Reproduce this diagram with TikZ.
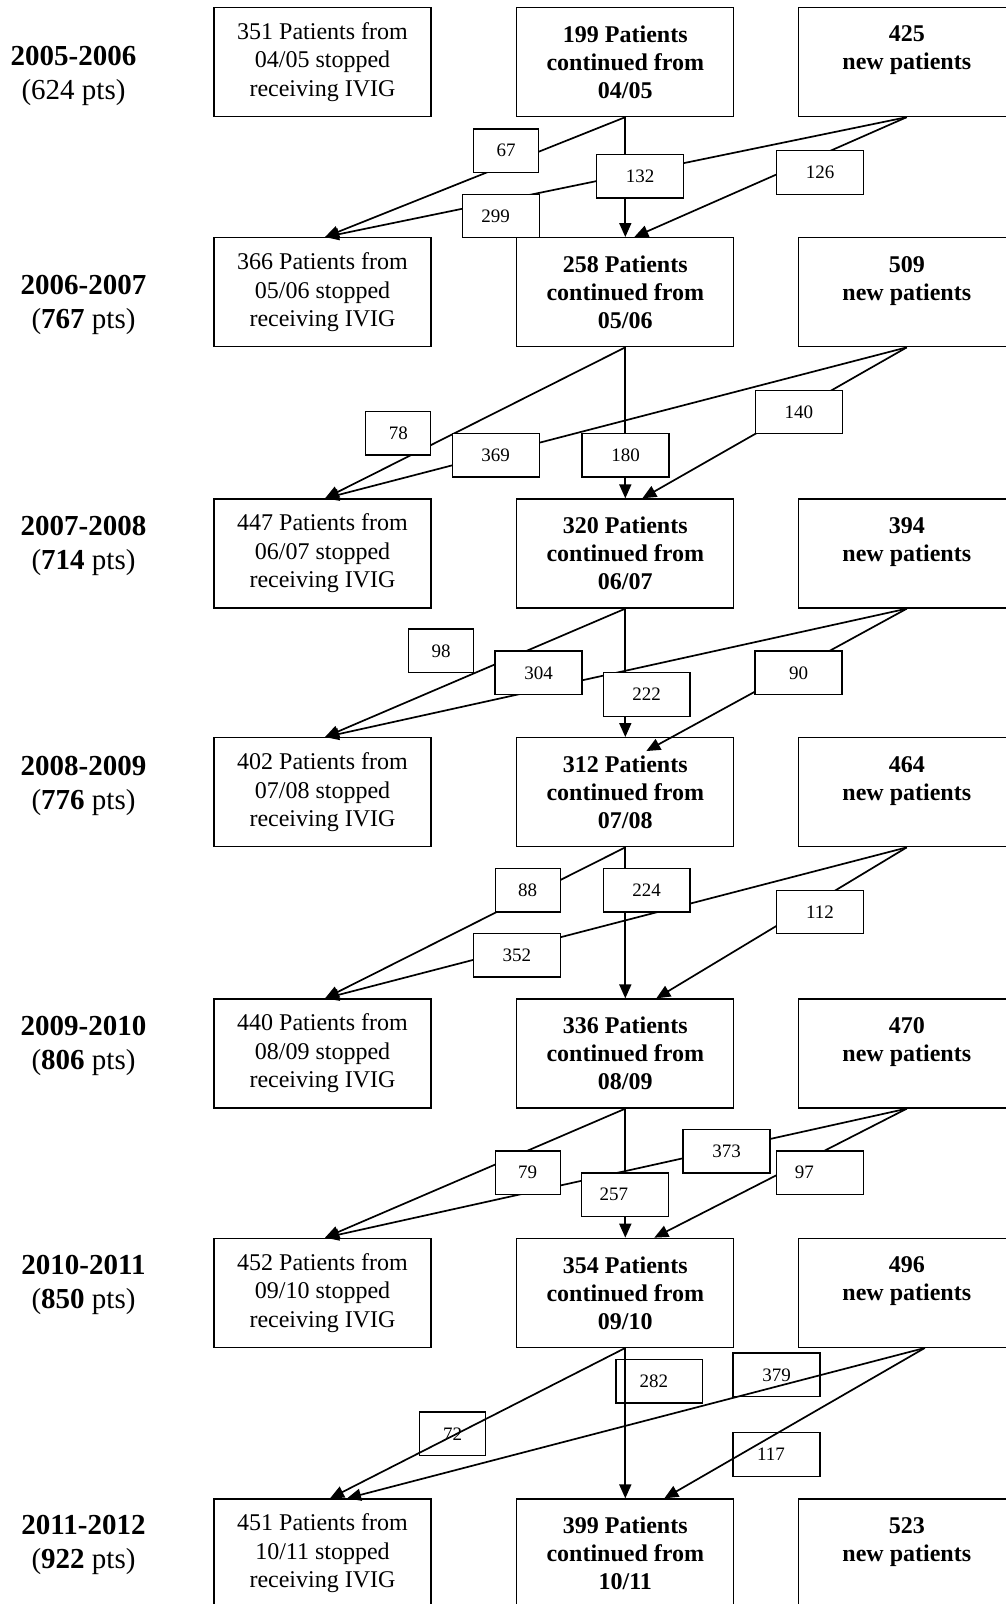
\documentclass[tikz,border=0pt]{standalone}
\usepackage{fontspec}
\setmainfont{Liberation Serif}
\usetikzlibrary{arrows.meta}

\begin{document}
\begin{tikzpicture}[x=1pt,y=-1pt,
    box/.style={draw,line width=1.3pt,minimum width=217pt,minimum height=109pt,
      inner sep=0pt,align=center,font=\fontsize{24}{28.5}\selectfont},
    stopbox/.style={box},
    contbox/.style={box,font=\fontsize{24}{28}\selectfont\bfseries},
    numbox/.style={draw,fill=white,line width=1.3pt,minimum height=43.5pt,
      inner sep=0pt,font=\fontsize{19}{22}\selectfont},
    flow/.style={line width=1.7pt,-{Triangle[length=14pt,width=12pt]}},
    yearlbl/.style={align=center,font=\fontsize{29}{34}\selectfont}]

    \useasboundingbox (0,0) rectangle (1006,1604);

    % One row per year: stopped, continued, new, year label
    \foreach \i/\yc/\ns/\per/\nc/\nn/\yr/\ptsn/\lx/\ly in {
        1/62/351/{04/05}/199/425/2005-2006/624/73.5/75.5,
        2/292.2/366/{05/06}/258/509/2006-2007/\textbf{767}/83.5/305.4,
        3/553.5/447/{06/07}/320/394/2007-2008/\textbf{714}/83.5/546.2,
        4/792.2/402/{07/08}/312/464/2008-2009/\textbf{776}/83.5/785.6,
        5/1053.5/440/{08/09}/336/470/2009-2010/\textbf{806}/83.5/1046.3,
        6/1292.8/452/{09/10}/354/496/2010-2011/\textbf{850}/83.5/1285.2,
        7/1553.5/451/{10/11}/399/523/2011-2012/\textbf{922}/83.5/1545.2}
    {
        \node[stopbox] (stop\i) at (322.5,\yc) {\ns{} Patients from\\\per{} stopped\\receiving IVIG};
        \node[contbox] (cont\i) at (625.3,\yc) {\nc{} Patients\\continued from\\\per};
        \node[contbox] (new\i) at (906.8,\yc) {\nn\\new patients\\~};
        \node[yearlbl] (yr\i) at (\lx,\ly) {\textbf{\yr}\\(\ptsn{} pts)};
    }

    % Last step: the lines run over these boxes
    \node[numbox,fill=none,minimum width=86.7pt] (n282) at (659.4,1381.2) {282\hspace*{11pt}};
    \node[numbox,fill=none,minimum width=87pt] (n379) at (776.5,1374.8) {379};
    \node[numbox,fill=none,minimum width=65.7pt] (n72) at (452.5,1433.8) {72};
    \node[numbox,fill=none,minimum width=87pt] (n117) at (776.5,1454.5) {117\hspace*{11pt}};

    % Flows from one year to the next
    \foreach \i/\j/\dx/\dy in {1/2/9/0, 2/3/17/0, 3/4/21/-14, 4/5/31/0, 5/6/29/0}
    {
        \draw[flow] (cont\i.south) -- ([xshift=2.5pt]stop\j.north);
        \draw[flow] (new\i.south) -- ([xshift=2.5pt]stop\j.north);
        \draw[flow] (cont\i.south) -- (cont\j.north);
        \draw[flow] (new\i.south) -- ([xshift=\dx pt,yshift=\dy pt]cont\j.north);
    }
    \draw[flow] (cont6.south) -- ([xshift=7.5pt]stop7.north);
    \draw[flow] ([xshift=18pt]new6.south) -- ([xshift=24.5pt]stop7.north);
    \draw[flow] (cont6.south) -- (cont7.north);
    \draw[flow] ([xshift=18pt]new6.south) -- ([xshift=39pt]cont7.north);

    % Counts on the flows
    \node[numbox,minimum width=65pt] (n67) at (506,150.7) {67};
    \node[numbox,minimum width=86.5pt] (n132) at (640,176.3) {132};
    \node[numbox,minimum width=87pt] (n126) at (820,172.5) {126};
    \node[numbox,minimum width=76.6pt] (n299) at (501,216) {299\hspace*{11pt}};

    \node[numbox,minimum width=65pt] (n78) at (398.3,433.3) {78};
    \node[numbox,minimum width=87pt] (n369) at (495.7,455.3) {369};
    \node[numbox,minimum width=87pt] (n180) at (625.6,455.3) {180};
    \node[numbox,minimum width=87pt] (n140) at (798.9,412) {140};

    \node[numbox,minimum width=65pt] (n98) at (441.2,650.8) {98};
    \node[numbox,minimum width=87pt] (n304) at (538.6,672.8) {304};
    \node[numbox,minimum width=86.5pt] (n222) at (646.7,694.5) {222};
    \node[numbox,minimum width=87pt] (n90) at (798.5,672.8) {90};

    \node[numbox,minimum width=65pt] (n88) at (527.7,890.2) {88};
    \node[numbox,minimum width=86.5pt] (n224) at (646.7,890.2) {224};
    \node[numbox,minimum width=87pt] (n352) at (516.8,955.3) {352};
    \node[numbox,minimum width=87pt] (n112) at (819.9,912) {112};

    \node[numbox,minimum width=65pt] (n79) at (527.7,1172.7) {79};
    \node[numbox,minimum width=87pt] (n257) at (625.1,1194.7) {257\hspace*{22.6pt}};
    \node[numbox,minimum width=87pt] (n373) at (726.6,1151.2) {373};
    \node[numbox,minimum width=87pt] (n97) at (819.9,1172.7) {97\hspace*{31pt}};
\end{tikzpicture}
\end{document}
